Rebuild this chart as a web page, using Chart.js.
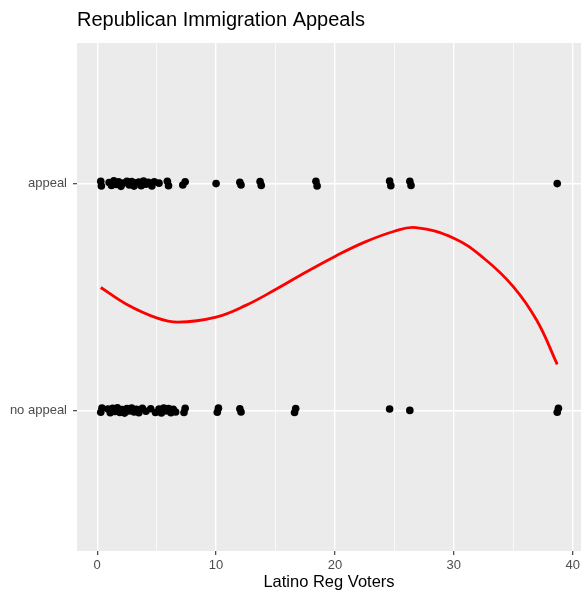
<!DOCTYPE html>
<html>
<head>
<meta charset="utf-8">
<title>Republican Immigration Appeals</title>
<script src="https://cdn.jsdelivr.net/npm/chart.js"></script>
<style>
  body { margin: 0; background: #fff; }
  #chart { display: block; }
</style>
</head>
<body>
<canvas id="chart" width="581" height="595"></canvas>
<script>
// values
const categories = ["no appeal", "appeal"];
const xTicks = [0, 5, 10, 15, 20, 25, 30, 35, 40];

const appealX = [0.3, 0.35, 1.0, 1.2, 1.4, 1.6, 1.8, 2.0, 2.2, 2.5, 2.7, 2.9, 3.1, 3.3, 3.5, 3.7, 3.9, 4.1, 4.3,
  4.6, 4.8, 5.2, 5.9, 6.0, 7.2, 7.4, 10.0, 12.0, 12.1, 13.7, 13.8, 18.4, 18.5, 24.6, 24.7, 26.3, 26.4, 38.7];
const appealJitter = [0.01, -0.01, 0.005, -0.008, 0.012, -0.004, 0.008, -0.012, 0.003, 0.01, -0.006, 0.009, -0.011,
  0.004, 0.007, -0.009, 0.011, -0.003, 0.006, -0.01, 0.008, 0.002, 0.01, -0.009, -0.006, 0.008, 0, 0.006, -0.006,
  0.009, -0.008, 0.01, -0.01, 0.011, -0.009, 0.01, -0.008, 0];

const noAppealX = [0.3, 0.4, 0.9, 1.1, 1.3, 1.5, 1.7, 1.9, 2.1, 2.3, 2.5, 2.7, 2.9, 3.1, 3.3, 3.5, 3.8, 4.1, 4.5, 4.9,
  5.2, 5.4, 5.6, 5.8, 6.0, 6.2, 6.4, 6.6, 7.3, 7.4, 10.1, 10.2, 12.0, 12.1, 16.6, 16.7, 24.6, 26.3, 38.7, 38.8];
const noAppealJitter = [-0.008, 0.01, 0.006, -0.01, 0.009, -0.005, 0.011, -0.009, 0.004, -0.012, 0.008, -0.003, 0.01,
  -0.007, 0.005, -0.01, 0.009, -0.004, 0.007, -0.009, 0.006, -0.011, 0.01, -0.002, 0.008, -0.01, 0.005, -0.007,
  -0.009, 0.009, -0.008, 0.01, 0.007, -0.007, -0.009, 0.008, 0.006, 0, -0.008, 0.009];

// fitted smooth (0 = no appeal, 1 = appeal)
const smoothX = [0.3, 2.5, 5, 6.8, 10, 12.5, 15, 17.5, 20, 22.5, 25, 26.8, 30, 32.5, 35, 37, 38.7];
const smoothY = [0.542, 0.467, 0.408, 0.389, 0.411, 0.463, 0.533, 0.608, 0.679, 0.742, 0.790, 0.806, 0.759, 0.672,
  0.546, 0.395, 0.203];

const FONT = '"Liberation Sans", Arial, Helvetica, sans-serif';

const panelBg = {
  id: 'panelBg',
  beforeDraw(chart) {
    const { ctx, chartArea: a } = chart;
    ctx.save();
    ctx.fillStyle = '#FFFFFF';
    ctx.fillRect(0, 0, chart.width, chart.height);
    ctx.fillStyle = '#EBEBEB';
    ctx.fillRect(a.left, a.top, a.right - a.left, a.bottom - a.top);
    ctx.restore();
  }
};

const isMajor = v => v % 10 === 0;

new Chart(document.getElementById('chart'), {
  type: 'scatter',
  data: {
    datasets: [
      {
        type: 'line',
        data: smoothX.map((x, i) => ({ x: x, y: smoothY[i] })),
        borderColor: '#FF0000',
        borderWidth: 2.8,
        pointRadius: 0,
        fill: false,
        tension: 0.4
      },
      {
        data: appealX.map((x, i) => ({ x: x, y: 1 + appealJitter[i] })),
        backgroundColor: '#000000',
        borderWidth: 0,
        pointRadius: 3.8
      },
      {
        data: noAppealX.map((x, i) => ({ x: x, y: noAppealJitter[i] })),
        backgroundColor: '#000000',
        borderWidth: 0,
        pointRadius: 3.8
      }
    ]
  },
  options: {
    responsive: false,
    animation: false,
    devicePixelRatio: 1,
    layout: { padding: 0, autoPadding: false },
    plugins: {
      legend: { display: false },
      tooltip: { enabled: false },
      title: {
        display: true,
        text: 'Republican Immigration Appeals',
        align: 'start',
        fullSize: false,
        color: '#000000',
        font: { family: FONT, size: 20, weight: 'normal' },
        padding: { top: 8, bottom: 11 }
      }
    },
    scales: {
      x: {
        type: 'linear',
        min: -1.7,
        max: 40.7,
        afterBuildTicks: s => { s.ticks = xTicks.map(v => ({ value: v })); },
        afterFit: s => { s.height = 44; s.paddingLeft = 0; s.paddingRight = 0; },
        border: { display: false },
        grid: {
          color: '#FFFFFF',
          lineWidth: ctx => (ctx.tick && isMajor(ctx.tick.value)) ? 1.4 : 0.7,
          tickColor: ctx => (ctx.tick && isMajor(ctx.tick.value)) ? '#333333' : 'rgba(0,0,0,0)',
          tickLength: 4,
          tickWidth: 1.1
        },
        ticks: {
          callback: v => isMajor(v) ? String(v) : '',
          color: '#4D4D4D',
          font: { family: FONT, size: 13 },
          padding: 3,
          maxRotation: 0,
          autoSkip: false
        },
        title: {
          display: true,
          text: 'Latino Reg Voters',
          color: '#000000',
          font: { family: FONT, size: 16.5 },
          padding: { top: 0, bottom: 3 }
        }
      },
      y: {
        type: 'linear',
        min: -0.62,
        max: 1.62,
        afterBuildTicks: s => { s.ticks = [0, 1].map(v => ({ value: v })); },
        afterFit: s => { s.width = 77; },
        border: { display: false },
        grid: {
          color: '#FFFFFF',
          lineWidth: 1.4,
          tickColor: '#333333',
          tickLength: 4,
          tickWidth: 1.1
        },
        ticks: {
          callback: v => categories[v],
          color: '#4D4D4D',
          font: { family: FONT, size: 13 },
          padding: 6
        }
      }
    }
  },
  plugins: [panelBg]
});
</script>
</body>
</html>
